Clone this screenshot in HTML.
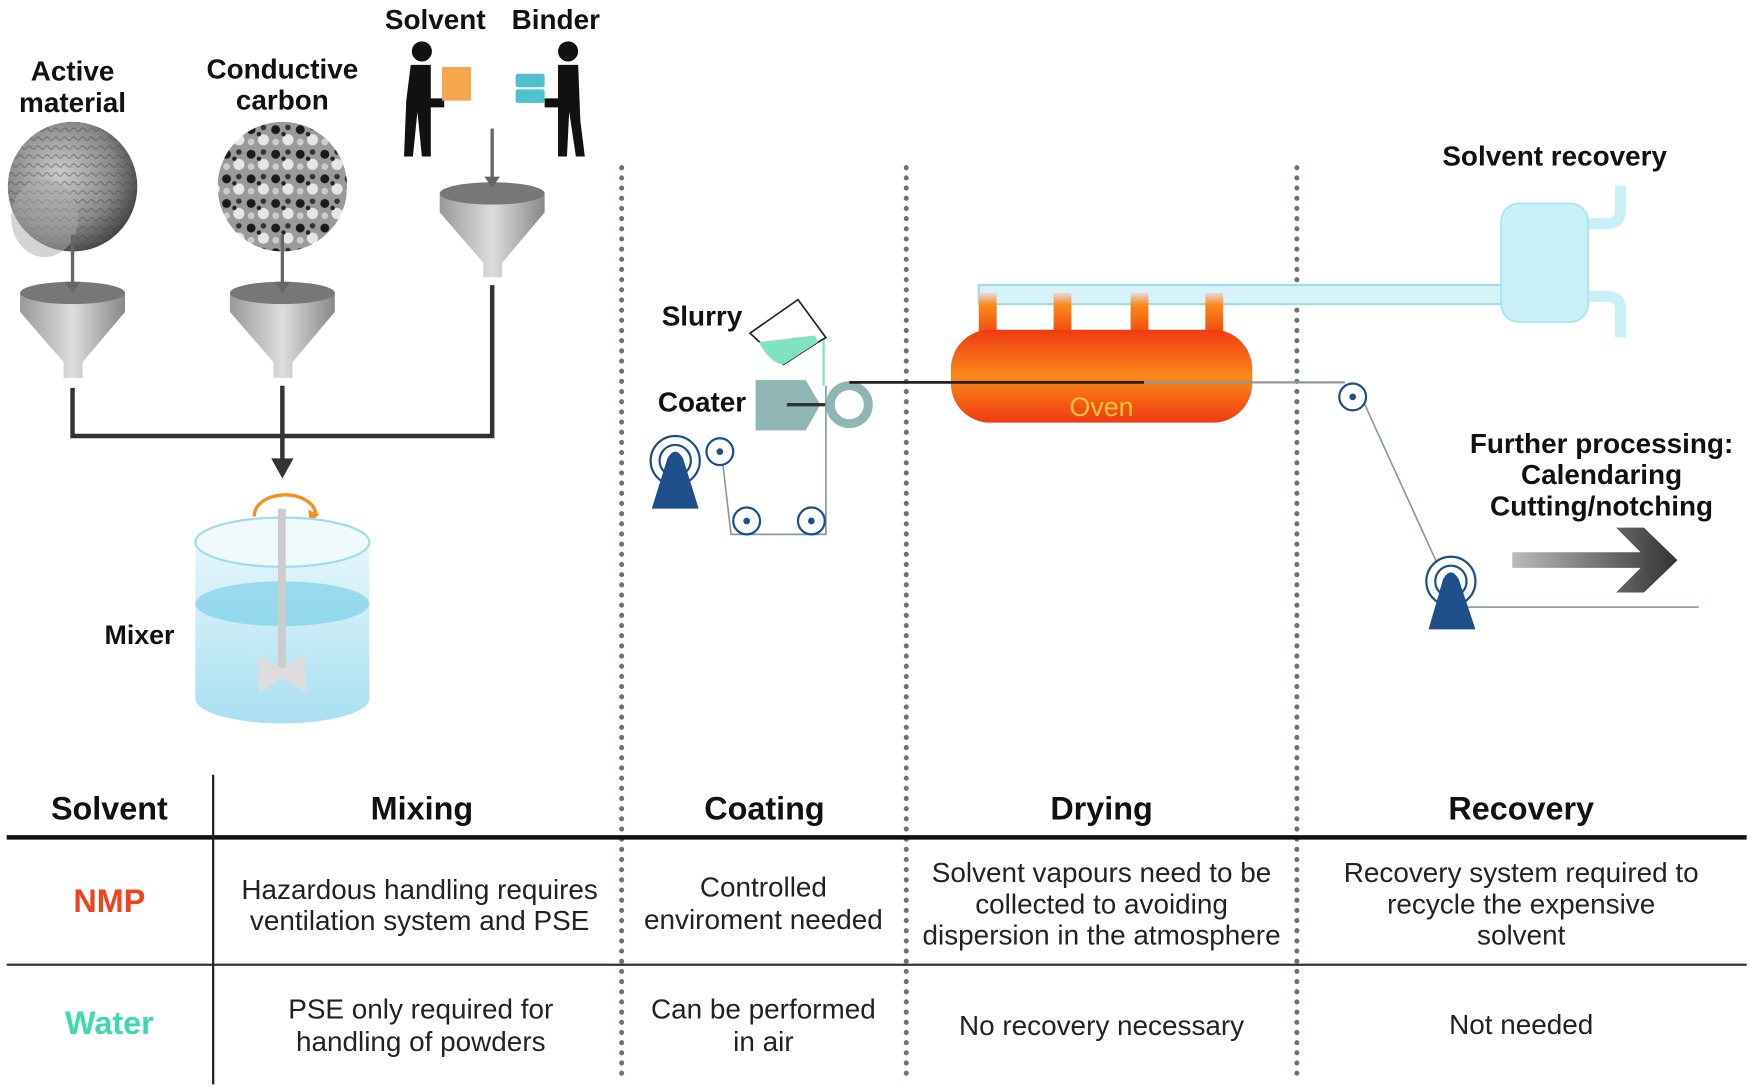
<!DOCTYPE html>
<html><head><meta charset="utf-8"><style>
html,body{margin:0;padding:0;background:#fff;width:1750px;height:1090px;overflow:hidden}
svg{display:block}
.b{font-family:"Liberation Sans Narrow","Liberation Sans",sans-serif;font-weight:bold;fill:#111;text-anchor:middle}
.t{font-family:"Liberation Sans Narrow","Liberation Sans",sans-serif;fill:#222;text-anchor:middle;font-size:25px}
</style></head><body>
<svg width="1750" height="1090" viewBox="0 0 1568 975" preserveAspectRatio="none" xmlns="http://www.w3.org/2000/svg">
<defs>
<radialGradient id="am" cx="0.4" cy="0.4" r="0.7"><stop offset="0" stop-color="#ccc"/><stop offset="0.6" stop-color="#888"/><stop offset="1" stop-color="#333"/></radialGradient>
<pattern id="amt" width="8" height="8" patternUnits="userSpaceOnUse"><rect width="8" height="8" fill="none"/><path d="M0 4 Q2 1 4 4 T8 4" stroke="#444" stroke-width="1" fill="none" opacity="0.5"/></pattern>
<pattern id="cc" width="22" height="22" patternUnits="userSpaceOnUse"><rect width="22" height="22" fill="#9a9a9a"/><circle cx="5" cy="6" r="4" fill="#1a1a1a"/><circle cx="16" cy="15" r="5" fill="#e6e6e6"/><circle cx="16" cy="4" r="2.5" fill="#333"/><circle cx="5" cy="17" r="3" fill="#ccc"/><circle cx="12" cy="10" r="2" fill="#222"/></pattern>
<linearGradient id="fn" x1="0" x2="1"><stop offset="0" stop-color="#999"/><stop offset="0.5" stop-color="#ddd"/><stop offset="1" stop-color="#888"/></linearGradient>
<linearGradient id="ov" x1="0" y1="0" x2="0" y2="1"><stop offset="0" stop-color="#f03a10"/><stop offset="0.5" stop-color="#f98a1a"/><stop offset="1" stop-color="#f03a10"/></linearGradient>
<linearGradient id="ch" x1="0" y1="0" x2="0" y2="1"><stop offset="0" stop-color="#e6d8e0"/><stop offset="0.3" stop-color="#f98a1a"/><stop offset="1" stop-color="#f24a10"/></linearGradient>
<linearGradient id="ar" x1="0" x2="1"><stop offset="0" stop-color="#bbb"/><stop offset="1" stop-color="#333"/></linearGradient>
<linearGradient id="mx" x1="0" y1="0" x2="0" y2="1"><stop offset="0" stop-color="#e3f5fb"/><stop offset="1" stop-color="#9fdcf0"/></linearGradient>
</defs>

<text class="b" x="65" y="72" font-size="25">Active</text>
<text class="b" x="65" y="100" font-size="25">material</text>
<text class="b" x="253" y="70" font-size="25">Conductive</text>
<text class="b" x="253" y="98" font-size="25">carbon</text>
<text class="b" x="390" y="26" font-size="25">Solvent</text>
<text class="b" x="498" y="26" font-size="25">Binder</text>

<circle cx="65" cy="167" r="58" fill="url(#am)"/>
<circle cx="65" cy="167" r="58" fill="url(#amt)"/>
<ellipse cx="40" cy="195" rx="30" ry="35" fill="#aaa" opacity="0.5"/>
<circle cx="253" cy="167" r="58" fill="url(#cc)"/>

<g fill="#111">
<circle cx="378" cy="46" r="9"/><path d="M368 58h18v30h12v8h-12v44h-8l-4-40-4 40h-8l2-50z"/>
<rect x="396" y="60" width="26" height="30" fill="#f5a54a"/>
<circle cx="509" cy="46" r="9"/><path d="M500 58h18l2 50 4 32h-8l-6-40-2 40h-8v-44h-12v-8h12z"/>
</g>
<rect x="462" y="66" width="26" height="12" rx="2" fill="#4fc0cc"/><rect x="462" y="80" width="26" height="12" rx="2" fill="#4fc0cc"/>

<g>
<path d="M394 173 L488 173 L488 190 L450 235 L450 248 L433 248 L433 235 L394 190Z" fill="url(#fn)"/>
<ellipse cx="441" cy="173" rx="47" ry="10" fill="#777"/>
<path d="M18 262 L112 262 L112 279 L74 324 L74 338 L57 338 L57 324 L18 279Z" fill="url(#fn)"/>
<ellipse cx="65" cy="262" rx="47" ry="10" fill="#777"/>
<path d="M206 262 L300 262 L300 279 L262 324 L262 338 L245 338 L245 324 L206 279Z" fill="url(#fn)"/>
<ellipse cx="253" cy="262" rx="47" ry="10" fill="#777"/>
</g>
<g stroke="#666" stroke-width="3"><line x1="441" y1="115" x2="441" y2="165"/><line x1="65" y1="210" x2="65" y2="258"/><line x1="253" y1="210" x2="253" y2="258"/></g>
<g fill="#666"><path d="M434 158h14l-7 10z"/><path d="M58 252h14l-7 10z"/><path d="M246 252h14l-7 10z"/></g>

<g stroke="#333" stroke-width="4" fill="none"><path d="M65 347V390H441V255"/><line x1="253" y1="345" x2="253" y2="412"/></g>
<path d="M243 410h20l-10 18z" fill="#333"/>

<path d="M228 462 A27 18 0 0 1 283 460" stroke="#f39020" stroke-width="3" fill="none"/><path d="M276 456l10 4-8 8z" fill="#f39020"/>
<path d="M175 485 V625 A78 22 0 0 0 331 625 V485Z" fill="url(#mx)" opacity="0.9"/>
<ellipse cx="253" cy="540" rx="78" ry="20" fill="#6fcbe6" opacity="0.6"/>
<ellipse cx="253" cy="485" rx="78" ry="22" fill="#f0fafd" stroke="#9fdcf0" stroke-width="2"/>
<rect x="249" y="455" width="7" height="150" fill="#ccc"/>
<path d="M232 585 L253 598 L274 585 L274 620 L253 606 L232 620Z" fill="#ddd"/>
<text class="b" x="125" y="576" font-size="24">Mixer</text>

<g stroke="#6a7478" stroke-width="4.5" stroke-dasharray="0.1 9" stroke-linecap="round"><line x1="557" y1="150" x2="557" y2="965"/><line x1="812" y1="150" x2="812" y2="965"/><line x1="1162" y1="150" x2="1162" y2="965"/></g>

<text class="b" x="629" y="291" font-size="25">Slurry</text>
<text class="b" x="629" y="368" font-size="25">Coater</text>
<path d="M672 298 L715 268 L740 302 L733 306 L702 326 Z" fill="#fff" stroke="#222" stroke-width="1.5"/>
<path d="M680 306 L730 300 L733 306 L702 326 Q690 325 680 306Z" fill="#7fe3c0"/>
<line x1="738" y1="304" x2="738" y2="345" stroke="#7fe3c0" stroke-width="2"/>
<path d="M677 340 H722 L735 362 L722 385 H677Z" fill="#8fb5b5"/>
<line x1="705" y1="362" x2="740" y2="362" stroke="#333" stroke-width="3"/>
<circle cx="761" cy="362" r="17" fill="none" stroke="#8fb5b5" stroke-width="8"/>
<path d="M761 342 H1025" stroke="#222" stroke-width="2.5"/>
<path d="M1025 342 H1205" stroke="#8a9a9a" stroke-width="2"/>
<path d="M1222 360 L1295 520 M1300 543 H1522 M645 392 L655 478 H740 V345" stroke="#8a9a9a" stroke-width="1.5" fill="none"/>
<g fill="#fff" stroke="#1e4f8a" stroke-width="2">
<circle cx="605" cy="412" r="22"/><circle cx="605" cy="412" r="14"/>
<circle cx="645" cy="404" r="12"/><circle cx="669" cy="466" r="12"/><circle cx="727" cy="466" r="12"/>
<circle cx="1212" cy="355" r="12"/>
<circle cx="1300" cy="520" r="22"/><circle cx="1300" cy="520" r="14"/>
</g>
<g fill="#1e4f8a"><circle cx="645" cy="404" r="3"/><circle cx="669" cy="466" r="3"/><circle cx="727" cy="466" r="3"/><circle cx="1212" cy="355" r="3"/>
<path d="M598 410 Q605 398 612 410 L626 455 H584Z"/><path d="M1293 518 Q1300 506 1307 518 L1322 563 H1280Z"/></g>

<rect x="877" y="255" width="470" height="17" fill="#d8f3f8" stroke="#9fdde9" stroke-width="2"/>
<g fill="url(#ch)"><rect x="877" y="262" width="16" height="36"/><rect x="944" y="262" width="16" height="36"/><rect x="1013" y="262" width="16" height="36"/><rect x="1080" y="262" width="16" height="36"/></g>
<rect x="852" y="295" width="270" height="83" rx="35" fill="url(#ov)"/>
<path d="M852 342 H1025" stroke="#222" stroke-width="2.5"/><path d="M1025 342 H1122" stroke="#8a9a9a" stroke-width="2"/>
<text x="987" y="372" font-family="Liberation Sans Narrow,Liberation Sans,sans-serif" font-size="24" fill="#f8c040" text-anchor="middle">Oven</text>
<path d="M1420 200 H1440 Q1452 200 1452 188 V166 M1420 265 H1440 Q1452 265 1452 277 V302" stroke="#c8f0f6" stroke-width="10" fill="none"/>
<rect x="1345" y="182" width="78" height="106" rx="16" fill="#c8f0f6" stroke="#a6e3ee" stroke-width="1.5"/>
<text class="b" x="1393" y="148" font-size="25">Solvent recovery</text>

<text class="b" x="1435" y="405" font-size="25">Further processing:</text>
<text class="b" x="1435" y="433" font-size="25">Calendaring</text>
<text class="b" x="1435" y="461" font-size="25">Cutting/notching</text>
<path d="M1355 494 H1470 L1448 472 H1473 L1503 501 L1473 530 H1448 L1470 508 H1355Z" fill="url(#ar)"/>

<g class="b" font-size="29"><text x="98" y="733">Solvent</text><text x="378" y="733">Mixing</text><text x="685" y="733">Coating</text><text x="987" y="733">Drying</text><text x="1363" y="733">Recovery</text></g>
<line x1="6" y1="749" x2="1565" y2="749" stroke="#111" stroke-width="4"/>
<line x1="6" y1="863" x2="1565" y2="863" stroke="#333" stroke-width="2"/>
<line x1="191" y1="693" x2="191" y2="970" stroke="#222" stroke-width="2"/>
<text x="98" y="816" font-family="Liberation Sans Narrow,Liberation Sans,sans-serif" font-weight="bold" font-size="29" fill="#f0421c" text-anchor="middle">NMP</text>
<text x="98" y="925" font-family="Liberation Sans Narrow,Liberation Sans,sans-serif" font-weight="bold" font-size="29" fill="#3fd8b0" text-anchor="middle">Water</text>
<g class="t">
<text x="376" y="804">Hazardous handling requires</text><text x="376" y="832">ventilation system and PSE</text>
<text x="684" y="802">Controlled</text><text x="684" y="831">enviroment needed</text>
<text x="987" y="789">Solvent vapours need to be</text><text x="987" y="817">collected to avoiding</text><text x="987" y="845">dispersion in the atmosphere</text>
<text x="1363" y="789">Recovery system required to</text><text x="1363" y="817">recycle the expensive</text><text x="1363" y="845">solvent</text>
<text x="377" y="911">PSE only required for</text><text x="377" y="940">handling of powders</text>
<text x="684" y="911">Can be performed</text><text x="684" y="940">in air</text>
<text x="987" y="926">No recovery necessary</text>
<text x="1363" y="925">Not needed</text>
</g>
</svg>
</body></html>
